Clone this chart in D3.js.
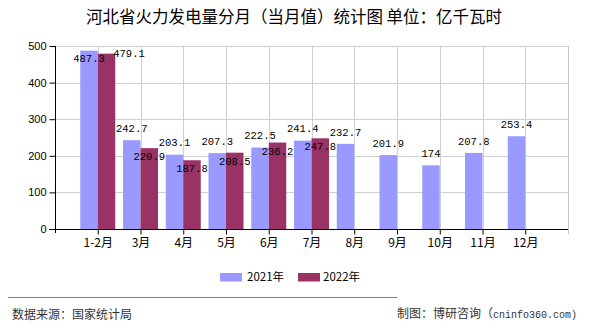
<!DOCTYPE html>
<html>
<head>
<meta charset="utf-8">
<script src="https://cdn.jsdelivr.net/npm/d3@7"></script>
<style>
  html, body { margin: 0; padding: 0; background: #fff; }
  svg { display: block; }
</style>
</head>
<body>
<svg id="chart" width="590" height="330"></svg>
<script>
const categories = ["1-2月", "3月", "4月", "5月", "6月", "7月", "8月", "9月", "10月", "11月", "12月"];
const values2021 = [487.3, 242.7, 203.1, 207.3, 222.5, 241.4, 232.7, 201.9, 174, 207.8, 253.4];
const values2022 = [479.1, 220.9, 187.8, 208.5, 236.2, 247.8];
const seriesNames = ["2021年", "2022年"];
const seriesColors = ["#9999ff", "#993366"];
const yTicks = [0, 100, 200, 300, 400, 500];
const titleText = "河北省火力发电量分月（当月值）统计图 单位：亿千瓦时";
const sourceText = "数据来源：国家统计局";
const creditCjk = "制图：博研咨询（";
const creditLatin = "cninfo360.com)";

(function () {
const svg = d3.select("#chart");
const pL = 55, pR = 568, pT = 46, pB = 229;
const cjk = "'Noto Sans CJK SC', 'Liberation Sans', sans-serif";
const mono = "'Liberation Mono', 'DejaVu Sans Mono', monospace";

const x = d3.scalePoint().domain(categories).range([pL, pR]).padding(1);
const y = d3.scaleLinear().domain([0, 500]).range([pB, pT]);
const barW = 17.5;

// Title
svg.append("text").attr("x", 294).attr("y", 17).attr("dy", "0.35em")
  .attr("text-anchor", "middle").attr("font-family", cjk).attr("font-size", 16.5)
  .attr("fill", "#000").text(titleText);

// Grid
const grid = svg.append("g").attr("stroke", "#d0d0d0").attr("stroke-width", 1);
yTicks.filter(t => t > 0).forEach(t => {
  grid.append("line").attr("x1", pL).attr("x2", pR)
    .attr("y1", Math.round(y(t)) + 0.5).attr("y2", Math.round(y(t)) + 0.5);
});
categories.forEach(c => {
  grid.append("line").attr("x1", Math.round(x(c)) + 0.5).attr("x2", Math.round(x(c)) + 0.5)
    .attr("y1", pT).attr("y2", pB);
});
grid.append("line").attr("x1", pR + 0.5).attr("x2", pR + 0.5)
  .attr("y1", pT).attr("y2", pB + 5).attr("stroke", "#c8c8c8");

// Bars
const g21 = svg.append("g");
g21.selectAll("rect").data(values2021).join("rect")
  .attr("x", (d, i) => x(categories[i]) - barW)
  .attr("y", d => y(d)).attr("width", barW).attr("height", d => y(0) - y(d))
  .attr("fill", seriesColors[0]);
const g22 = svg.append("g");
g22.selectAll("rect").data(values2022).join("rect")
  .attr("x", (d, i) => x(categories[i]))
  .attr("y", d => y(d)).attr("width", barW).attr("height", d => y(0) - y(d))
  .attr("fill", seriesColors[1]);

// Axes
const yAxis = svg.append("g").attr("transform", `translate(${pL + 0.5},0)`)
  .call(d3.axisLeft(y).tickValues(yTicks).tickSize(6).tickPadding(3).tickSizeOuter(0));
yAxis.select(".domain").remove();
yAxis.selectAll("text").attr("font-family", "'Liberation Sans', Arial, sans-serif")
  .attr("font-size", 11).attr("fill", "#000");
yAxis.selectAll("line").attr("stroke", "#000");

const xAxis = svg.append("g").attr("transform", `translate(0,${pB + 0.5})`)
  .call(d3.axisBottom(x).tickSize(5).tickPadding(4).tickSizeOuter(0));
xAxis.select(".domain").remove();
xAxis.selectAll("text").attr("font-family", cjk).attr("font-size", 12).attr("fill", "#000");
xAxis.selectAll("line").attr("stroke", "#000");

svg.append("line").attr("x1", pL + 0.5).attr("x2", pL + 0.5)
  .attr("y1", pT).attr("y2", pB + 4).attr("stroke", "#000");
svg.append("line").attr("x1", pL - 6).attr("x2", pR)
  .attr("y1", pB + 0.5).attr("y2", pB + 0.5).attr("stroke", "#000");

// Data labels
const charW = 6.3;
const labels21 = values2021.map((v, i) => {
  const t = y(v);
  const cy = (t - 12 - 6 < pT) ? t + 8 : t - 12;
  const cx = x(categories[i]) - barW / 2;
  return { v, cx, cy, anchor: "middle", w: String(v).length * charW };
});
const labels22 = values2022.map((v, i) => {
  const t = y(v);
  let cx = x(categories[i]) + barW / 2, cy = t + 8.5, anchor = "middle";
  const w = String(v).length * charW;
  const o = labels21[i];
  const overlapX = Math.abs(cx - o.cx) < (w + o.w) / 2;
  const overlapY = Math.abs(cy - o.cy) < 10;
  if (overlapX && overlapY) { cx = x(categories[i]) + barW - 2; cy = t; anchor = "start"; }
  return { v, cx, cy, anchor, w };
});
svg.append("g").selectAll("text").data(labels21.concat(labels22)).join("text")
  .attr("x", d => d.cx).attr("y", d => d.cy).attr("dy", "0.35em")
  .attr("text-anchor", d => d.anchor)
  .attr("font-family", mono).attr("font-size", 10.5).attr("fill", "#000")
  .text(d => d.v);

// Legend
const legendItems = [
  { name: seriesNames[0], color: seriesColors[0], sx: 220, tx: 247 },
  { name: seriesNames[1], color: seriesColors[1], sx: 298, tx: 323 }
];
const lg = svg.append("g");
legendItems.forEach(it => {
  lg.append("rect").attr("x", it.sx).attr("y", 273).attr("width", 22).attr("height", 8.5).attr("fill", it.color);
  lg.append("text").attr("x", it.tx).attr("y", 277).attr("dy", "0.35em")
    .attr("font-family", cjk).attr("font-size", 11.5).attr("fill", "#000").text(it.name);
});

// Footer
svg.append("line").attr("x1", 8).attr("x2", 397).attr("y1", 297.5).attr("y2", 297.5)
  .attr("stroke", "#808080").attr("stroke-width", 1);
svg.append("text").attr("x", 12).attr("y", 315).attr("dy", "0.35em")
  .attr("font-family", cjk).attr("font-size", 12).attr("fill", "#333").text(sourceText);
const credit = svg.append("text").attr("x", 577).attr("y", 312.5).attr("dy", "0.35em")
  .attr("text-anchor", "end").attr("fill", "#333");
credit.append("tspan").attr("font-family", cjk).attr("font-size", 12).text(creditCjk);
credit.append("tspan").attr("font-family", mono).attr("font-size", 10).text(creditLatin);
})();
</script>
</body>
</html>
